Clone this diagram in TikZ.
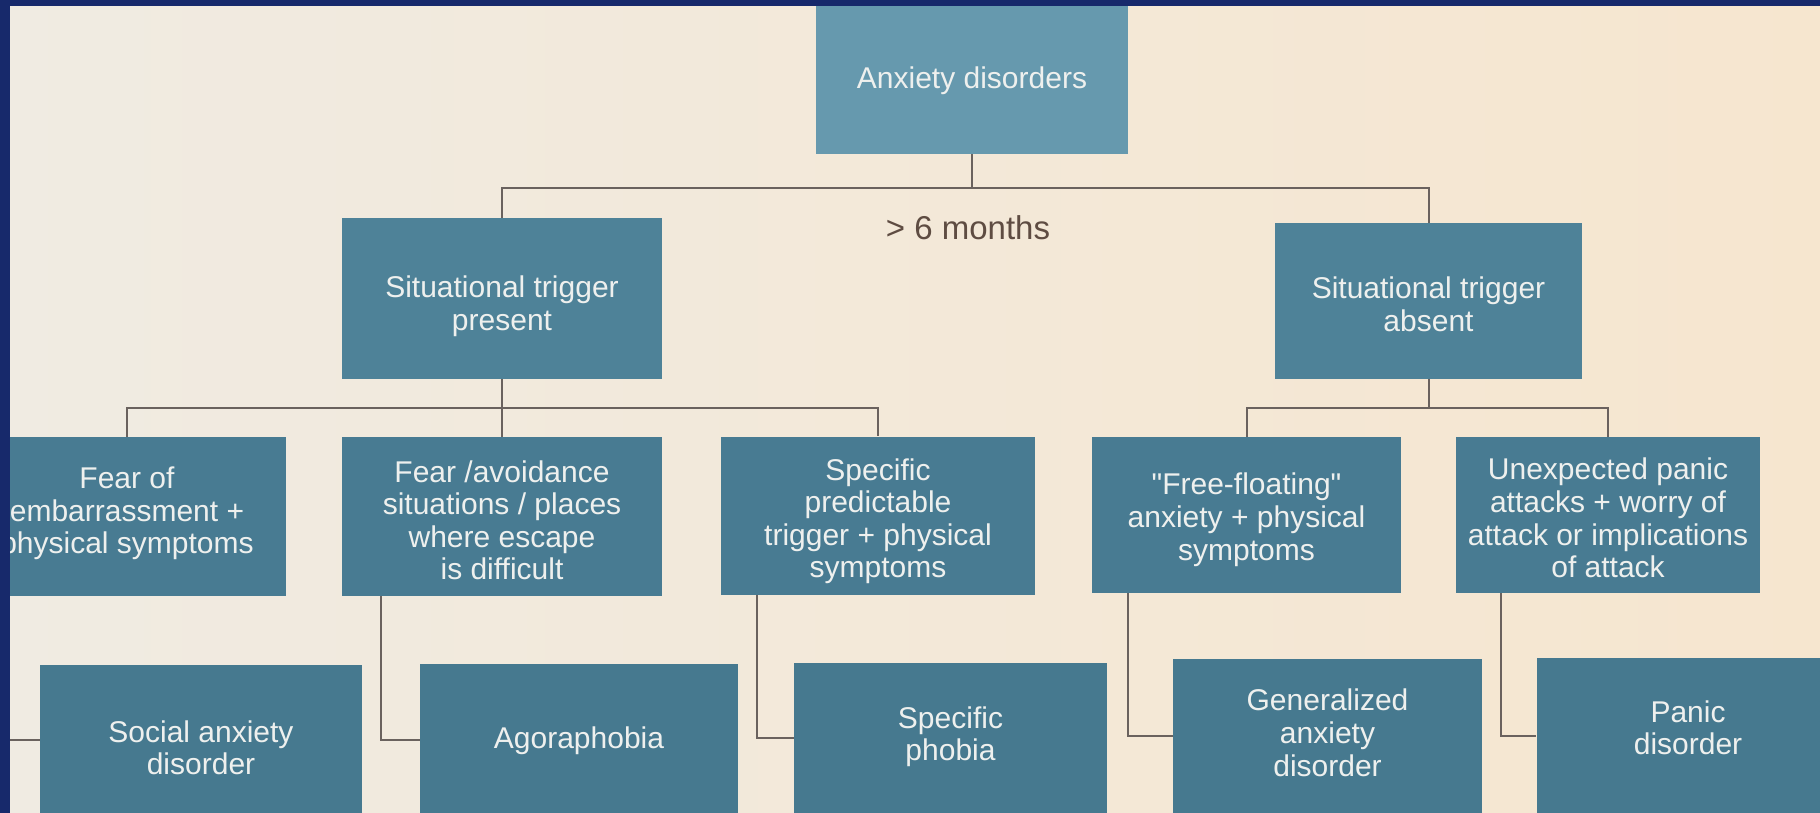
\documentclass[tikz,border=0pt]{standalone}
\usepackage{fontspec}
\setmainfont{Liberation Sans}[Ligatures=TeXOff]
\usetikzlibrary{calc}
\definecolor{bgL}{HTML}{F0EBE2}
\definecolor{bgM}{HTML}{FDFBF1}
\definecolor{bgR}{HTML}{F6E6CF}
\definecolor{cRoot}{HTML}{6699AE}
\definecolor{cOne}{HTML}{4E8298}
\definecolor{cTwo}{HTML}{487B92}
\definecolor{cThree}{HTML}{46798F}
\definecolor{cLine}{HTML}{6A625E}
\definecolor{cFrame}{HTML}{17296B}
\definecolor{cTxt}{HTML}{EEF0EE}
\definecolor{cNote}{HTML}{5E4C42}
% text block moved vertically by #1 without changing the node size
\newcommand\mytxt[2]{\raisebox{#1}[\height][\depth]{\begin{tabular}{@{}c@{}}#2\end{tabular}}}
\begin{document}
\begin{tikzpicture}[x=0.5pt,y=-0.5pt,
  dbox/.style={draw=none, inner sep=0pt, align=center, text=cTxt,
    font=\fontsize{15}{16.3}\selectfont},
  sz/.style 2 args={minimum width=#1*0.5pt, minimum height=#2*0.5pt},
  conn/.style={draw=cLine, line width=1pt},
  note/.style={text=cNote, inner sep=0pt, font=\fontsize{16.5}{19}\selectfont}]
\useasboundingbox (0,0) rectangle (1820,813);
\clip (0,0) rectangle (1820,813);
\shade[left color=bgL, middle color=bgM, right color=bgR] (0,0) rectangle (1820,813);

% level 0
\node[dbox, fill=cRoot, sz={312}{148}] (root) at (972,80) {\mytxt{-1pt}{Anxiety disorders}};
% level 1
\node[dbox, fill=cOne, sz={320}{161}] (sp) at (502,298.5) {\mytxt{-4.5pt}{Situational trigger\\present}};
\node[dbox, fill=cOne, sz={307}{156}] (sa) at (1428.5,301) {\mytxt{-3.75pt}{Situational trigger\\absent}};
% level 2
\node[dbox, fill=cTwo, sz={318}{159}] (emb) at (127,516.5) {\mytxt{1pt}{Fear of\\embarrassment +\\physical symptoms}};
\node[dbox, fill=cTwo, sz={320}{159}] (avoid) at (502,516.5) {\mytxt{-4pt}{Fear /avoidance\\situations / places\\where escape\\is difficult}};
\node[dbox, fill=cTwo, sz={314}{158}] (spec) at (878,515.5) {\mytxt{-3.5pt}{Specific\\predictable\\trigger + physical\\symptoms}};
\node[dbox, fill=cTwo, sz={309}{156}] (free) at (1246.5,515) {\mytxt{-3pt}{"Free-floating"\\anxiety + physical\\symptoms}};
\node[dbox, fill=cTwo, sz={304}{156}] (unexp) at (1608,515) {\mytxt{-3.6pt}{Unexpected panic\\attacks + worry of\\attack or implications\\of attack}};
% level 3
\node[dbox, fill=cThree, sz={322}{166}] (social) at (201,748) {\mytxt{-2pt}{Social anxiety\\disorder}};
\node[dbox, fill=cThree, sz={318}{152}] (agor) at (579,740) {\mytxt{-1pt}{Agoraphobia}};
\node[dbox, fill=cThree, sz={313}{150}] (sphob) at (950.5,738) {\mytxt{0pt}{Specific\\phobia}};
\node[dbox, fill=cThree, sz={309}{154}] (gad) at (1327.5,736) {\mytxt{-0.5pt}{Generalized\\anxiety\\disorder}};
\node[dbox, fill=cThree, sz={303}{156}] (panic) at (1688,736) {\mytxt{2pt}{Panic\\disorder}};

\node[note, anchor=base] (months) at (968,239) {> 6 months};

% connectors
\coordinate (j0) at (972,188);
\coordinate (j1) at (502,408);
\coordinate (j2) at (1428.5,408);
\draw[conn] (root.south) -- (j0);
\draw[conn] (sp.north) |- (j0) -| (sa.north);
\draw[conn] (sp.south) -- (j1);
\draw[conn] (emb.north) |- (j1) -| (spec.north);
\draw[conn] (j1) -- (avoid.north);
\draw[conn] (sa.south) -- (j2);
\draw[conn] (free.north) |- (j2) -| (unexp.north);

\draw[conn] ($(emb.south west)+(38,0)$) |- ($(social.west)+(0,-8)$);
\draw[conn] ($(avoid.south west)+(39,0)$) |- (agor.west);
\draw[conn] ($(spec.south west)+(36,0)$) |- (sphob.west);
\draw[conn] ($(free.south west)+(36,0)$) |- (gad.west);
\draw[conn] ($(unexp.south west)+(45,0)$) |- (panic.west);

% photo frame
\fill[cFrame] (0,0) rectangle (1820,6);
\fill[cFrame] (0,0) rectangle (10,813);
\end{tikzpicture}
\end{document}
